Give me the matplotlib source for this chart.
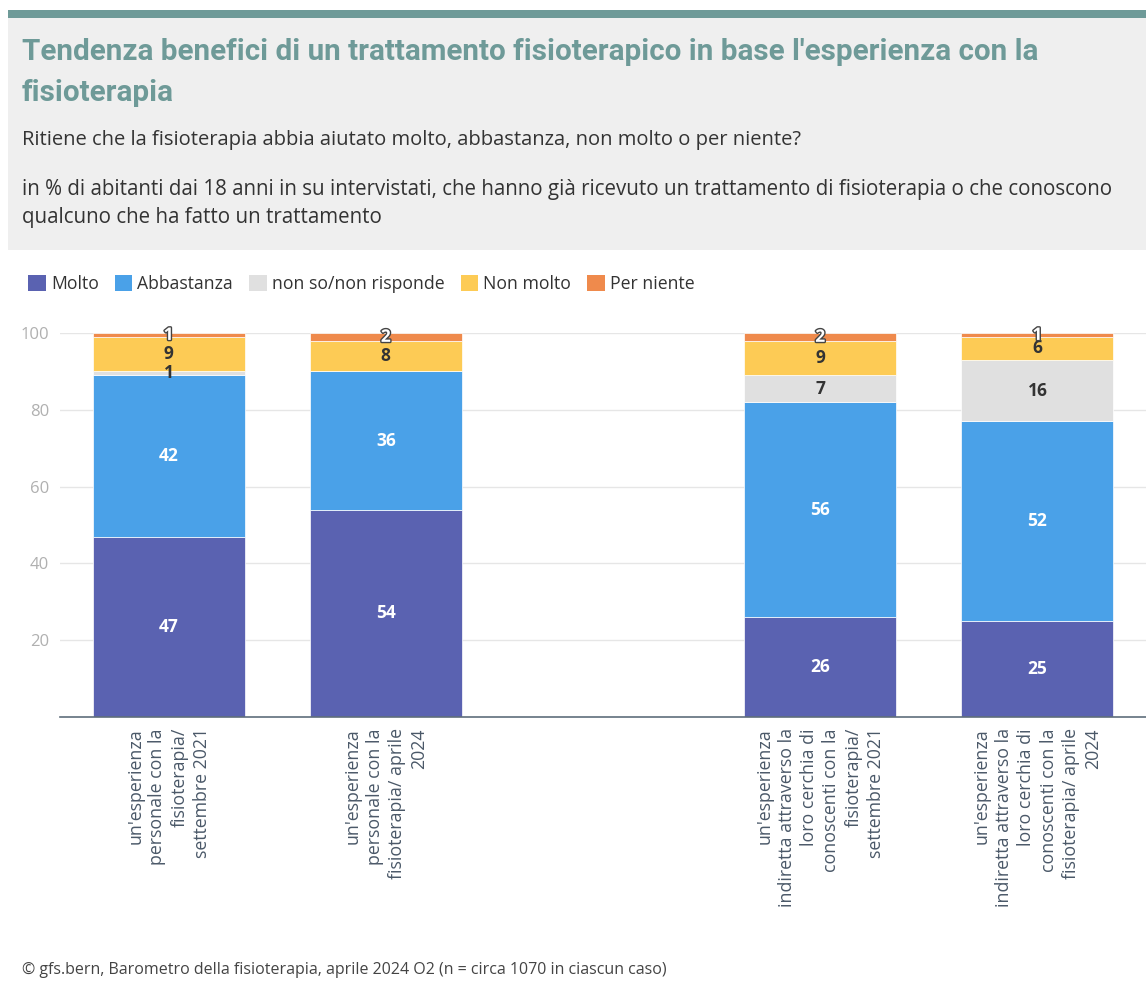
import matplotlib.pyplot as plt
import matplotlib.patheffects as pe
from matplotlib.patches import Rectangle, Patch
import numpy as np

plt.rcParams['font.family'] = ['Open Sans', 'DejaVu Sans']

categories = [
    "un'esperienza\npersonale con la\nfisioterapia/\nsettembre 2021",
    "un'esperienza\npersonale con la\nfisioterapia/ aprile\n2024",
    "",
    "un'esperienza\nindiretta attraverso la\nloro cerchia di\nconoscenti con la\nfisioterapia/\nsettembre 2021",
    "un'esperienza\nindiretta attraverso la\nloro cerchia di\nconoscenti con la\nfisioterapia/ aprile\n2024",
]
positions = [0, 1, 3, 4]
series = ['Molto', 'Abbastanza', 'non so/non risponde', 'Non molto', 'Per niente']
molto = [47, 54, 26, 25]
abbastanza = [42, 36, 56, 52]
non_so = [1, 0, 7, 16]
non_molto = [9, 8, 9, 6]
per_niente = [1, 2, 2, 1]
colors = ['#5a62b1', '#4aa1e8', '#e0e0e0', '#fdcb55', '#ef8a4c']
label_colors = ['white', 'white', '#333333', '#333333', 'white']

W, H = 1146, 993
fig = plt.figure(figsize=(W / 100, H / 100), dpi=100)
fig.patch.set_facecolor('white')

# header
fig.add_artist(Rectangle((8 / W, 1 - 250 / H), 1 - 8 / W, 232 / H, transform=fig.transFigure,
                         facecolor='#efefef', edgecolor='none', zorder=0))
fig.add_artist(Rectangle((8 / W, 1 - 18 / H), 1 - 8 / W, 8 / H, transform=fig.transFigure,
                         facecolor='#6e9a98', edgecolor='none', zorder=0))
title_font = ['Roboto', 'DejaVu Sans']
fig.text(22 / W, 1 - 52 / H, "Tendenza benefici di un trattamento fisioterapico in base l'esperienza con la",
         fontsize=21.3, fontweight='bold', color='#6e9a98', va='center', family=title_font)
fig.text(22 / W, 1 - 93 / H, "fisioterapia",
         fontsize=21.3, fontweight='bold', color='#6e9a98', va='center', family=title_font)
fig.text(22 / W, 1 - 140 / H, "Ritiene che la fisioterapia abbia aiutato molto, abbastanza, non molto o per niente?",
         fontsize=14.5, color='#333333', va='center')
fig.text(22 / W, 1 - 190 / H, "in % di abitanti dai 18 anni in su intervistati, che hanno già ricevuto un trattamento di fisioterapia o che conoscono",
         fontsize=14.8, color='#333333', va='center')
fig.text(22 / W, 1 - 217 / H, "qualcuno che ha fatto un trattamento",
         fontsize=14.8, color='#333333', va='center')
fig.text(22 / W, 1 - 970 / H, "© gfs.bern, Barometro della fisioterapia, aprile 2024 O2 (n = circa 1070 in ciascun caso)",
         fontsize=11.5, color='#444444', va='center')

ax = fig.add_axes([60 / W, 1 - 717 / H, 1 - 60 / W, 384 / H])
data = [molto, abbastanza, non_so, non_molto, per_niente]
bottom = np.zeros(len(positions))
for name, vals, col, lc in zip(series, data, colors, label_colors):
    vals = np.array(vals, dtype=float)
    ax.bar(positions, vals, bottom=bottom, width=0.7, color=col, edgecolor='white', linewidth=0.5,
           label=name, zorder=2)
    for x, b, v in zip(positions, bottom, vals):
        if v <= 0:
            continue
        y = b + v / 2
        if name == 'Per niente':
            ax.text(x, y, f'{v:.0f}', ha='center', va='center', fontsize=12.5, fontweight='bold',
                    color='white', zorder=4,
                    path_effects=[pe.withStroke(linewidth=2, foreground='#444444')])
        else:
            ax.text(x, y, f'{v:.0f}', ha='center', va='center', fontsize=12.5, fontweight='bold',
                    color=lc, zorder=4)
    bottom += vals

ax.set_xlim(-0.5, 4.5)
ax.set_ylim(0, 100)
ax.set_yticks([20, 40, 60, 80, 100])
ax.tick_params(axis='y', length=0, labelsize=12, labelcolor='#b0b0b0', pad=8)
ax.set_xticks(range(5))
ax.set_xticklabels(categories, rotation=90, ha='center', va='top', multialignment='right',
                   fontsize=12.8, color='#4a5868', linespacing=1.3)
ax.tick_params(axis='x', length=0, pad=8)
ax.grid(axis='y', color='#e6e6e6', linewidth=1, zorder=0)
for s in ['top', 'right', 'left']:
    ax.spines[s].set_visible(False)
ax.spines['bottom'].set_color('#5f6e7c')
ax.spines['bottom'].set_linewidth(1.2)
ax.spines['bottom'].set_zorder(3)

handles = [Patch(facecolor=c, edgecolor='none') for c in colors]
fig.legend(handles, series, loc='center left', bbox_to_anchor=(12 / W, 1 - 284 / H), ncol=5,
           frameon=False, fontsize=12.7, handlelength=1.0, handleheight=1.0, handletextpad=0.3,
           columnspacing=0.9, labelcolor='#333333')

fig.savefig('out.png', dpi=100)
